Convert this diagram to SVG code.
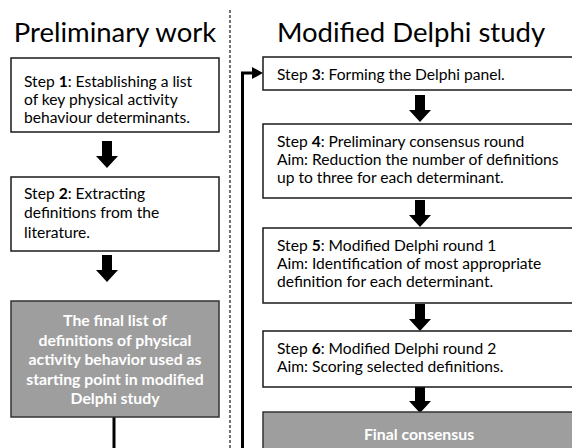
<svg xmlns="http://www.w3.org/2000/svg" width="572" height="448" viewBox="0 0 572 448">
<defs>
<style>
.t{font-family:Lato,"Open Sans","Liberation Sans",sans-serif;font-size:15.6px;fill:#000}
.h{font-family:Lato,"Open Sans","Liberation Sans",sans-serif;font-size:27.5px;fill:#000}
.w{font-family:Lato,"Open Sans","Liberation Sans",sans-serif;font-size:15.8px;font-weight:bold;fill:#fff;text-anchor:middle}
.box{fill:#fff;stroke:#1a1a1a;stroke-width:1.5}
.gbox{fill:#9e9e9e;stroke:#333;stroke-width:1.5}
.ln{stroke:#000;stroke-width:3;fill:none}
</style>
<path id="barrow" d="M-5 0 H5 V15 H11 L0 27 L-11 15 H-5 Z" fill="#000"/>
</defs>
<line x1="230" y1="10" x2="230" y2="448" stroke="#444" stroke-width="1.5" stroke-dasharray="3,2"/>
<text class="h" x="115" y="42" text-anchor="middle" font-size="28">Preliminary work</text>
<text class="h" x="411" y="42" text-anchor="middle">Modified Delphi study</text>
<g id="connectors">
<use href="#barrow" x="107" y="141"/>
<use href="#barrow" x="107" y="255"/>
<use href="#barrow" x="420" y="95"/>
<use href="#barrow" x="420" y="200"/>
<use href="#barrow" x="420" y="304"/>
<use href="#barrow" x="420" y="386"/>
<line class="ln" x1="114" y1="417" x2="114" y2="448"/>
<polyline class="ln" points="242.5,448 242.5,73 254,73"/>
<path d="M252 67 L263 73 L252 79 Z" fill="#000"/>
</g>
<g id="step1">
<rect class="box" x="11" y="58" width="208" height="74"/>
<text class="t" x="24" y="87">Step <tspan font-weight="bold">1</tspan>: Establishing a list</text>
<text class="t" x="24" y="105">of key physical activity</text>
<text class="t" x="24" y="123">behaviour determinants.</text>
</g>
<g id="step2">
<rect class="box" x="11" y="177" width="208" height="74"/>
<text class="t" x="24" y="199">Step <tspan font-weight="bold">2</tspan>: Extracting</text>
<text class="t" x="24" y="218">definitions from the</text>
<text class="t" x="24" y="238">literature.</text>
</g>
<g id="finallist">
<rect class="gbox" x="11" y="301" width="208" height="116"/>
<text class="w" x="115" y="326">The final list of</text>
<text class="w" x="115" y="345.5">definitions of physical</text>
<text class="w" x="115" y="365">activity behavior used as</text>
<text class="w" x="115" y="384.5">starting point in modified</text>
<text class="w" x="115" y="404">Delphi study</text>
</g>
<g id="step3">
<rect class="box" x="263" y="57" width="316" height="33"/>
<text class="t" x="277" y="80">Step <tspan font-weight="bold">3</tspan>: Forming the Delphi panel.</text>
</g>
<g id="step4">
<rect class="box" x="263" y="124" width="316" height="74"/>
<text class="t" x="277" y="147">Step <tspan font-weight="bold">4</tspan>: Preliminary consensus round</text>
<text class="t" x="277" y="165">Aim: Reduction the number of definitions</text>
<text class="t" x="277" y="183">up to three for each determinant.</text>
</g>
<g id="step5">
<rect class="box" x="263" y="228" width="316" height="75"/>
<text class="t" x="277" y="251">Step <tspan font-weight="bold">5</tspan>: Modified Delphi round 1</text>
<text class="t" x="277" y="269">Aim: Identification of most appropriate</text>
<text class="t" x="277" y="287">definition for each determinant.</text>
</g>
<g id="step6">
<rect class="box" x="263" y="331" width="316" height="56"/>
<text class="t" x="277" y="354">Step <tspan font-weight="bold">6</tspan>: Modified Delphi round 2</text>
<text class="t" x="277" y="372">Aim: Scoring selected definitions.</text>
</g>
<g id="final">
<rect class="gbox" x="263" y="412" width="316" height="50"/>
<text class="w" x="419" y="440" font-size="17.5">Final consensus</text>
</g>
</svg>
